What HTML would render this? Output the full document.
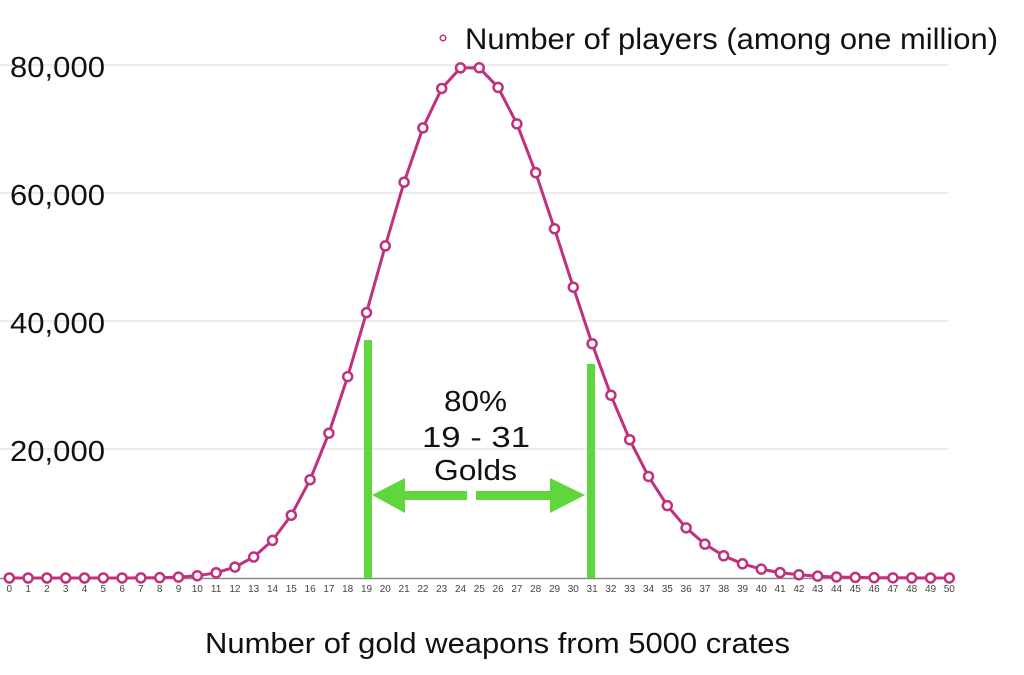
<!DOCTYPE html>
<html><head><meta charset="utf-8"><style>
body{margin:0;background:#fff;}
svg{display:block;font-family:"Liberation Sans",sans-serif;}
</style></head><body>
<svg id="s" width="1024" height="675" viewBox="0 0 1024 675" xmlns="http://www.w3.org/2000/svg">
<g stroke="#d8d8d8" stroke-width="1">
<line x1="0" y1="65" x2="948" y2="65"/>
<line x1="0" y1="193" x2="948" y2="193"/>
<line x1="0" y1="321" x2="948" y2="321"/>
<line x1="0" y1="449" x2="948" y2="449"/>
</g>
<line x1="0" y1="578.5" x2="950" y2="578.5" stroke="#888" stroke-width="1.5"/>
<g font-size="29" fill="#111">
<text x="10" y="77" textLength="95" lengthAdjust="spacingAndGlyphs">80,000</text>
<text x="10" y="205" textLength="95" lengthAdjust="spacingAndGlyphs">60,000</text>
<text x="10" y="333" textLength="95" lengthAdjust="spacingAndGlyphs">40,000</text>
<text x="10" y="461" textLength="95" lengthAdjust="spacingAndGlyphs">20,000</text>
</g>
<circle cx="443" cy="38" r="2.8" fill="none" stroke="#c0307e" stroke-width="1.5"/>
<text x="465" y="49" font-size="30" fill="#111" textLength="533" lengthAdjust="spacingAndGlyphs">Number of players (among one million)</text>
<text x="205" y="653" font-size="29" fill="#111" textLength="585" lengthAdjust="spacingAndGlyphs">Number of gold weapons from 5000 crates</text>
<g id="xt" font-size="10" fill="#444" text-anchor="middle"></g>
<polyline id="ln" fill="none" stroke="#c0307e" stroke-width="3"/>
<g id="pts" fill="#fff" stroke="#c0307e" stroke-width="2.5"></g>
<g fill="#5fd63c">
<rect x="364" y="340" width="8" height="238"/>
<rect x="587" y="364" width="8" height="214"/>
<rect x="400" y="491" width="67" height="9"/>
<polygon points="372,495 405,478 405,513"/>
<rect x="476" y="491" width="75" height="9"/>
<polygon points="585,495 550,478 550,513"/>
</g>
<g font-size="29" fill="#111">
<text x="444" y="411" textLength="63" lengthAdjust="spacingAndGlyphs">80%</text>
<text x="422" y="447" textLength="108" lengthAdjust="spacingAndGlyphs">19 - 31</text>
<text x="434" y="480" textLength="83" lengthAdjust="spacingAndGlyphs">Golds</text>
</g>
</svg>
<script>
var n=5000,p=0.005,P=Math.pow(1-p,n),pts=[],ns="http://www.w3.org/2000/svg";
var g=document.getElementById('pts'),xt=document.getElementById('xt');
for(var k=0;k<=50;k++){
 var x=9.3+18.8*k,y=578-P*1e6*128/20000;
 pts.push(x.toFixed(1)+','+y.toFixed(1));
 var c=document.createElementNS(ns,'circle');c.setAttribute('cx',x);c.setAttribute('cy',y);c.setAttribute('r',4.5);g.appendChild(c);
 var t=document.createElementNS(ns,'text');t.setAttribute('x',x);t.setAttribute('y',592);t.textContent=k;xt.appendChild(t);
 P=P*(n-k)/(k+1)*p/(1-p);
}
document.getElementById('ln').setAttribute('points',pts.join(' '));
</script>
</body></html>
